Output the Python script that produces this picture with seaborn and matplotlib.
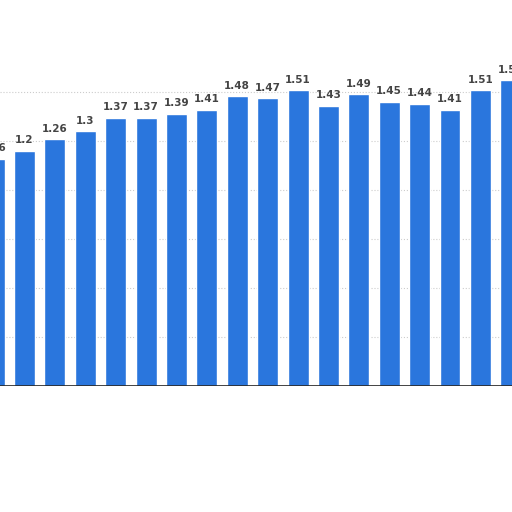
import pandas as pd
import numpy as np
import matplotlib.pyplot as plt
import seaborn as sns

# values (first and last are cut off at the edges)
labels = ['1.16', '1.2', '1.26', '1.3', '1.37', '1.37', '1.39', '1.41', '1.48',
          '1.47', '1.51', '1.43', '1.49', '1.45', '1.44', '1.41', '1.51', '1.56']
values = [1.16, 1.2, 1.26, 1.3, 1.37, 1.37, 1.39, 1.41, 1.48,
          1.47, 1.51, 1.43, 1.49, 1.45, 1.44, 1.41, 1.51, 1.56]
positions = list(range(len(values)))

df = pd.DataFrame({'pos': positions, 'value': values})

sns.set_theme(style="white")
plt.rcParams['font.family'] = ['DejaVu Sans']

fig = plt.figure(figsize=(5.12, 5.12), dpi=100)
ax = fig.add_axes([0, 126 / 512, 1, 386 / 512])

sns.barplot(data=df, x='pos', y='value', color='#2a76dd', saturation=1,
            width=0.69, ax=ax, native_scale=True, zorder=3)

ax.set_xlim(0.194, 17.04)
ax.set_ylim(0, 1.971)
ax.set_yticks([0.25, 0.5, 0.75, 1.0, 1.25, 1.5])
ax.grid(axis='y', color='#cccccc', linestyle=':', linewidth=0.8, zorder=0)
ax.axhline(0, color='#222222', linewidth=1.2, zorder=4)

for p, lab in zip(ax.patches, labels):
    ax.annotate(lab, (p.get_x() + p.get_width() / 2, p.get_height()),
                ha='center', va='bottom', fontsize=7.5, fontweight='bold',
                color='#444444', xytext=(0, 4), textcoords='offset points',
                annotation_clip=False)

ax.set_xlabel('')
ax.set_ylabel('')
ax.set_xticks([])
ax.tick_params(left=False, labelleft=False)
for s in ax.spines.values():
    s.set_visible(False)

plt.savefig('out.png', dpi=100)
